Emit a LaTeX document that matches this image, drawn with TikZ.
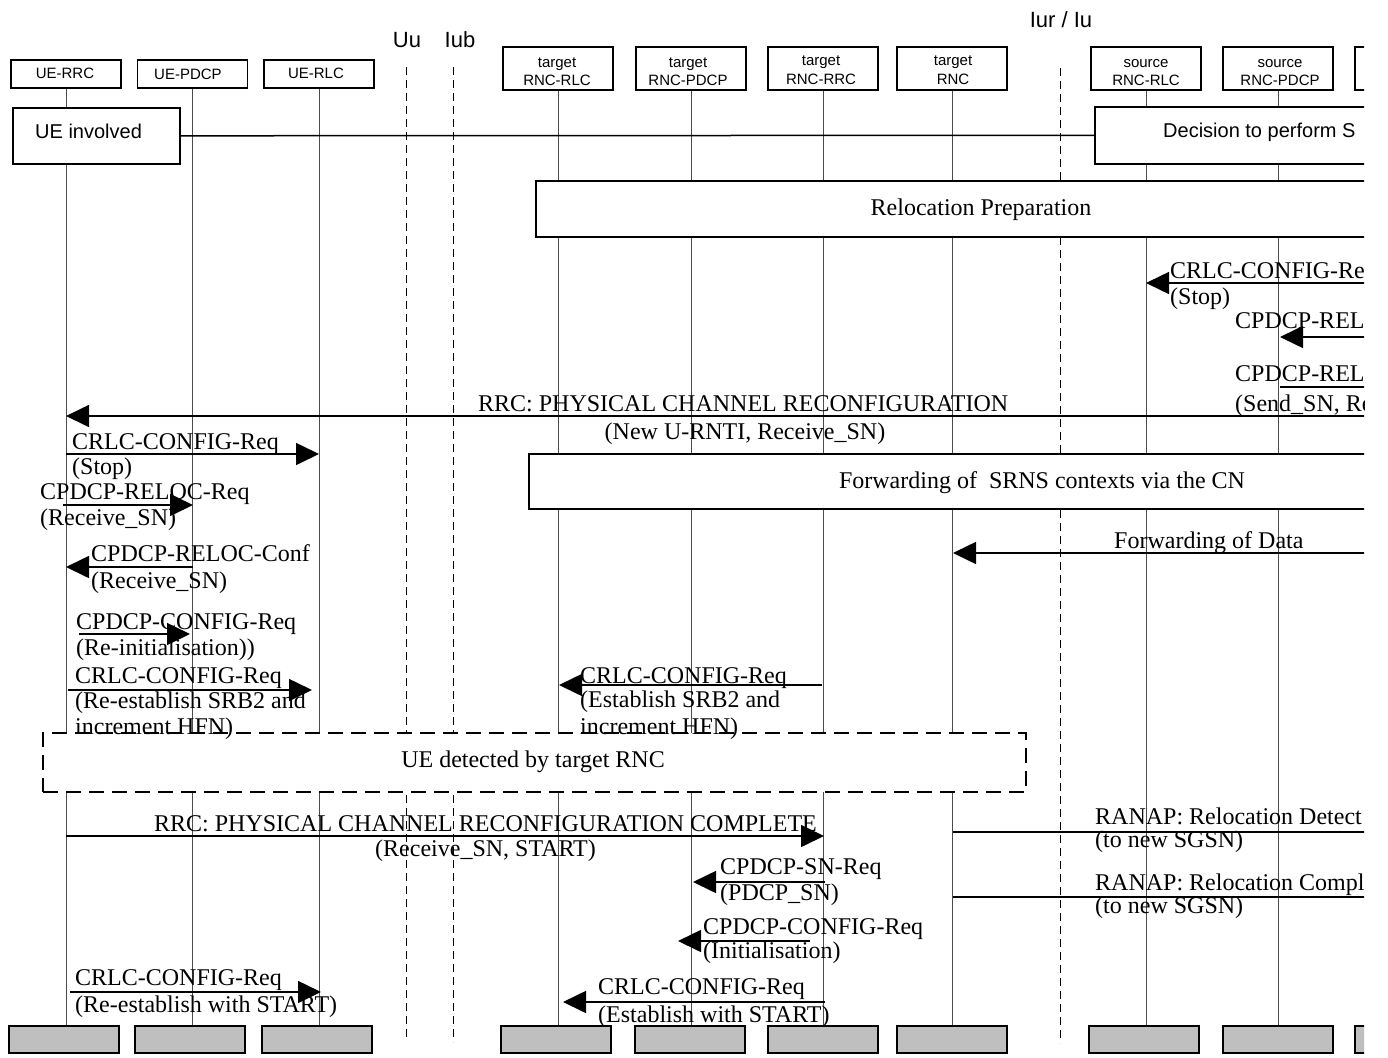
\documentclass[tikz,border=0pt]{standalone}
\usepackage{fontspec}
\setmainfont{Liberation Serif}
\newfontfamily\sansf{Liberation Sans}
\usetikzlibrary{arrows.meta}

\begin{document}
\begin{tikzpicture}[x=1pt,y=-1pt,
  entity/.style={draw, line width=1.4pt, fill=white, minimum width=110pt, inner sep=0pt},
  etxt/.style={anchor=base, inner sep=0pt, font=\sansf\fontsize{15}{17}\selectfont},
  endbox/.style={draw, line width=1.4pt, fill=black!25, minimum width=110pt, minimum height=27pt, inner sep=0pt},
  life/.style={line width=0.9pt, draw=black!70},
  iface/.style={line width=1pt, dash pattern=on 8pt off 5pt},
  phase/.style={draw, line width=1.6pt, fill=white, inner sep=0pt, anchor=north west},
  detect/.style={draw, line width=2pt, dash pattern=on 15pt off 8pt, fill=white, inner sep=0pt, anchor=north west},
  msg/.style={line width=1.6pt, -{Triangle[length=23pt,width=22pt]}},
  lbl/.style={anchor=base west, inner sep=0pt, font=\fontsize{24}{26}\selectfont},
  clbl/.style={anchor=base, inner sep=0pt, font=\fontsize{24}{26}\selectfont},
  slbl/.style={anchor=base west, inner sep=0pt, font=\sansf\fontsize{20}{22}\selectfont},
  ilbl/.style={anchor=base, inner sep=0pt, font=\sansf\fontsize{22}{24}\selectfont},
]
\path[fill=white] (0,0) rectangle (1388,1057);
\clip (0,0) rectangle (1364,1057);

% ---- entities (top) ----
\node[entity, minimum height=28pt] (ueRRC)  at (66,74)    {};
\node[entity, minimum height=28pt] (uePDCP) at (192.5,74) {};
\node[entity, minimum height=28pt] (ueRLC)  at (319,74)   {};
\node[entity, minimum height=43pt] (tRLC)   at (558,68.5)  {};
\node[entity, minimum height=43pt] (tPDCP)  at (691,68.5)  {};
\node[entity, minimum height=43pt] (tRRC)   at (823,68.5)  {};
\node[entity, minimum height=43pt] (tRNC)   at (952,68.5)  {};
\node[entity, minimum height=43pt] (sRLC)   at (1146,68.5) {};
\node[entity, minimum height=43pt] (sPDCP)  at (1278,68.5) {};
\node[entity, minimum height=43pt] (sRRC)   at (1410,68.5) {};

\node[etxt] (ueRRCt)  at (65,78)  {UE-RRC};
\node[etxt] (uePDCPt) at (188,79) {UE-PDCP};
\node[etxt] (ueRLCt)  at (316,78) {UE-RLC};
\node[etxt] (tRLCt1)  at (557,67) {target};
\node[etxt] (tRLCt2)  at (557,85) {RNC-RLC};
\node[etxt] (tPDCPt1) at (688,67) {target};
\node[etxt] (tPDCPt2) at (688,85) {RNC-PDCP};
\node[etxt] (tRRCt1)  at (821,66) {target};
\node[etxt] (tRRCt2)  at (821,84) {RNC-RRC};
\node[etxt] (tRNCt1)  at (953,66) {target};
\node[etxt] (tRNCt2)  at (953,84) {RNC};
\node[etxt] (sRLCt1)  at (1146,67) {source};
\node[etxt] (sRLCt2)  at (1146,85) {RNC-RLC};
\node[etxt] (sPDCPt1) at (1280,67) {source};
\node[etxt] (sPDCPt2) at (1280,85) {RNC-PDCP};

% ---- entities (bottom) ----
\node[endbox] (ueRRCe)  at (64,1039.5)   {};
\node[endbox] (uePDCPe) at (190,1039.5)  {};
\node[endbox] (ueRLCe)  at (317,1039.5)  {};
\node[endbox] (tRLCe)   at (556,1039.5)  {};
\node[endbox] (tPDCPe)  at (690,1039.5)  {};
\node[endbox] (tRRCe)   at (823,1039.5)  {};
\node[endbox] (tRNCe)   at (952,1039.5)  {};
\node[endbox] (sRLCe)   at (1144,1039.5) {};
\node[endbox] (sPDCPe)  at (1278,1039.5) {};
\node[endbox] (sRRCe)   at (1410,1039.5) {};

% ---- lifelines ----
\foreach \e in {ueRRC,uePDCP,ueRLC,tRLC,tPDCP,tRRC,tRNC,sRLC,sPDCP}
  \draw[life] (\e.south) -- (\e.south |- \e e.north);

% ---- interfaces ----
\coordinate (uuT) at (406,67);   \coordinate (uuB) at (406,1037);
\coordinate (iubT) at (453,67);  \coordinate (iubB) at (453,1042);
\coordinate (iurT) at (1060,68); \coordinate (iurB) at (1060,1043);
\draw[iface] (uuT) -- (uuB);
\draw[iface] (iubT) -- (iubB);
\draw[iface] (iurT) -- (iurB);
\node[ilbl] (uuL)  at (407,48) {Uu};
\node[ilbl] (iubL) at (460,48) {Iub};
\node[ilbl] (iurL) at (1061,28) {Iur / Iu};

% ---- phases ----
\node[phase, minimum width=167pt, minimum height=56pt] (ueinv) at (12,107) {};
\node[phase, minimum width=330pt, minimum height=57pt] (decide) at (1094,106) {};
\draw[line width=1.5pt] (ueinv.east) -- (decide.west);
\node[slbl] (ueinvT) at (35,138) {UE involved};
\node[slbl] (decideT) at (1163,137) {Decision to perform S};

\node[phase, minimum width=890pt, minimum height=56pt] (relprep) at (535,180) {};
\node[clbl] (relprepT) at (981,215) {Relocation Preparation};

\node[phase, minimum width=900pt, minimum height=55pt] (fwdctx) at (528,453) {};
\node[clbl] (fwdctxT) at (1042,488) {Forwarding of\ \ SRNS contexts via the CN};

\node[detect, minimum width=983pt, minimum height=59pt] (uedet) at (42,732) {};
\node[clbl] (uedetT) at (533,767) {UE detected by target RNC};

% ---- message end points ----
\coordinate (m1a) at (1420,283);  \coordinate (m1b) at (1146,283);
\coordinate (m2a) at (1420,337);  \coordinate (m2b) at (1280,337);
\coordinate (m3a) at (1280,387);  \coordinate (m3b) at (1420,387);
\coordinate (m4a) at (1420,416);  \coordinate (m4b) at (66,416);
\coordinate (m5a) at (66,454);    \coordinate (m5b) at (319,454);
\coordinate (m6a) at (63,505);    \coordinate (m6b) at (193,505);
\coordinate (m7a) at (193,567);   \coordinate (m7b) at (66,567);
\coordinate (m8a) at (79,634);    \coordinate (m8b) at (190,634);
\coordinate (m9a) at (68,690);    \coordinate (m9b) at (312,690);
\coordinate (m10a) at (822,685); \coordinate (m10b) at (559,685);
\coordinate (m11a) at (1420,553); \coordinate (m11b) at (953,553);
\coordinate (m12a) at (66,836);   \coordinate (m12b) at (824,836);
\coordinate (m13a) at (825,882);  \coordinate (m13b) at (693,882);
\coordinate (m14a) at (810,941);  \coordinate (m14b) at (678,941);
\coordinate (m15a) at (70,992);   \coordinate (m15b) at (321,992);
\coordinate (m16a) at (825,1002); \coordinate (m16b) at (563,1002);
\coordinate (m17a) at (953,832);  \coordinate (m17b) at (1420,832);
\coordinate (m18a) at (953,897);  \coordinate (m18b) at (1420,897);

\foreach \m in {1,...,18}
  \draw[msg] (m\m a) -- (m\m b);

% ---- message labels ----
\node[lbl] (l1a) at (1170,278) {CRLC-CONFIG-Re};
\node[lbl] (l1b) at (1170,304) {(Stop)};
\node[lbl] (l2a) at (1235,328) {CPDCP-REL};
\node[lbl] (l3a) at (1235,381) {CPDCP-REL};
\node[lbl] (l3b) at (1235,411) {(Send\_SN, Re};
\node[lbl] (l4a) at (478,411) {RRC: PHYSICAL CHANNEL RECONFIGURATION};
\node[clbl] (l4b) at (745,439) {(New U-RNTI, Receive\_SN)};
\node[lbl] (l5a) at (72,449) {CRLC-CONFIG-Req};
\node[lbl] (l5b) at (72,474) {(Stop)};
\node[lbl] (l6a) at (40,499) {CPDCP-RELOC-Req};
\node[lbl] (l6b) at (40,525) {(Receive\_SN)};
\node[lbl] (l7a) at (91,561) {CPDCP-RELOC-Conf};
\node[lbl] (l7b) at (91,588) {(Receive\_SN)};
\node[lbl] (l8a) at (76,629) {CPDCP-CONFIG-Req};
\node[lbl] (l8b) at (76,655) {(Re-initialisation))};
\node[lbl] (l9a) at (75,683) {CRLC-CONFIG-Req};
\node[lbl] (l9b) at (75,708) {(Re-establish SRB2 and};
\node[lbl] (l9c) at (75,734) {increment HFN)};
\node[lbl] (l10a) at (580,683) {CRLC-CONFIG-Req};
\node[lbl] (l10b) at (580,707) {(Establish SRB2 and};
\node[lbl] (l10c) at (580,734) {increment HFN)};
\node[lbl] (l11a) at (1114,548) {Forwarding of Data};
\node[lbl] (l12a) at (154,831) {RRC: PHYSICAL CHANNEL RECONFIGURATION COMPLETE};
\node[lbl] (l12b) at (375,856) {(Receive\_SN, START)};
\node[lbl] (l13a) at (720,874) {CPDCP-SN-Req};
\node[lbl] (l13b) at (720,900) {(PDCP\_SN)};
\node[lbl] (l14a) at (703,934) {CPDCP-CONFIG-Req};
\node[lbl] (l14b) at (703,958) {(Initialisation)};
\node[lbl] (l15a) at (75,985) {CRLC-CONFIG-Req};
\node[lbl] (l15b) at (75,1012) {(Re-establish with START)};
\node[lbl] (l16a) at (598,994) {CRLC-CONFIG-Req};
\node[lbl] (l16b) at (598,1022) {(Establish with START)};
\node[lbl] (l17a) at (1095,824) {RANAP: Relocation Detect};
\node[lbl] (l17b) at (1095,847) {(to new SGSN)};
\node[lbl] (l18a) at (1095,890) {RANAP: Relocation Compl};
\node[lbl] (l18b) at (1095,913) {(to new SGSN)};
\end{tikzpicture}
\end{document}
